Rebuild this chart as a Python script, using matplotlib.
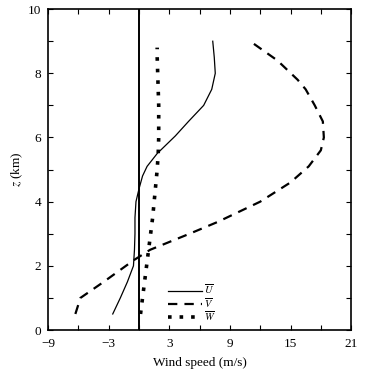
import numpy as np
import matplotlib
matplotlib.use("Agg")
import matplotlib.pyplot as plt
from matplotlib.ticker import MultipleLocator

plt.rcParams['font.family'] = ['Liberation Serif', 'DejaVu Serif']
plt.rcParams['mathtext.fontset'] = 'stix'

# U profile
z_u = [0.5, 1.0, 1.5, 2.0, 2.5, 3.0, 3.5, 4.0, 4.4, 4.8, 5.1, 5.5, 6.05, 6.5, 7.0, 7.5, 8.0, 8.5, 9.0]
u = [-2.6, -1.85, -1.15, -0.55, -0.45, -0.4, -0.4, -0.3, 0.0, 0.35, 0.8, 1.8, 3.6, 4.9, 6.4, 7.2, 7.55, 7.45, 7.3]
# V profile
z_v = [0.5, 1.0, 1.5, 2.18, 2.5, 3.0, 3.37, 3.7, 4.0, 4.6, 5.1, 5.6, 6.0, 6.5, 7.0, 7.5, 7.8, 8.4, 9.0]
v = [-6.3, -5.8, -3.5, -0.5, 1.1, 5.0, 7.8, 10.0, 12.0, 15.0, 16.8, 18.0, 18.3, 18.2, 17.4, 16.5, 15.7, 13.7, 11.0]
# W profile
z_w = [0.5, 1.0, 1.5, 2.0, 2.5, 3.0, 3.5, 4.0, 4.5, 5.0, 5.5, 6.0, 6.5, 7.0, 7.5, 8.0, 8.5, 8.8]
w = [0.15, 0.35, 0.55, 0.75, 0.95, 1.15, 1.35, 1.5, 1.65, 1.8, 1.9, 1.95, 1.95, 1.95, 1.9, 1.85, 1.8, 1.8]

fig = plt.figure(figsize=(3.7, 3.74), dpi=100)
ax = fig.add_axes([0.13, 0.1176, 0.819, 0.858])

ax.plot(u, z_u, color='black', lw=0.9, label=r'$\overline{U}$')
ax.plot(v, z_v, color='black', lw=1.6, dashes=(4.2, 3.2), label=r'$\overline{V}$')
ax.plot(w, z_w, color='black', lw=2.6, dashes=(1, 2.2), label=r'$\overline{W}$')
ax.axvline(0, color='black', lw=1.4)

ax.set_xlim(-9, 21)
ax.set_ylim(0, 10)
ax.xaxis.set_major_locator(MultipleLocator(6))
ax.xaxis.set_minor_locator(MultipleLocator(3))
ax.yaxis.set_major_locator(MultipleLocator(2))
ax.yaxis.set_minor_locator(MultipleLocator(1))
ax.set_xticks([-9, -3, 3, 9, 15, 21])
ax.tick_params(which='both', direction='in', top=True, right=True, length=3.5, width=0.8, labelsize=9.5)
ax.tick_params(axis='x', pad=6)
ax.tick_params(axis='y', pad=5)
for s in ax.spines.values():
    s.set_linewidth(1.2)

ax.set_xlabel('Wind speed (m/s)', fontsize=9.5, labelpad=5)
ax.set_ylabel(r'$z$ (km)', fontsize=9.5, labelpad=2)

ax.legend(loc='lower left', bbox_to_anchor=(0.37, 0.0), frameon=False, fontsize=7.5,
          handlelength=3.3, labelspacing=-0.05, handletextpad=0.25, borderpad=0.2)

fig.savefig('out.png', dpi=100)
